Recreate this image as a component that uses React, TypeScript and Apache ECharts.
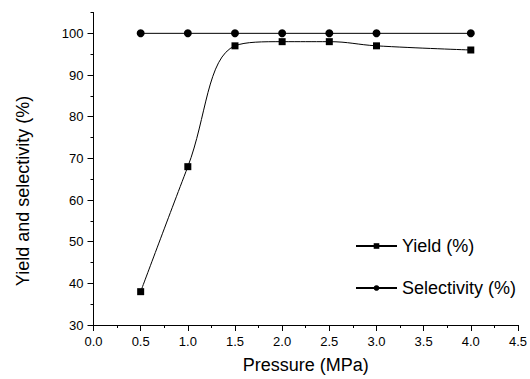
import React, { useEffect, useRef } from "react";
import * as echarts from "echarts";

const pressure = [0.5, 1.0, 1.5, 2.0, 2.5, 3.0, 4.0];
const yieldPct = [38, 68, 97, 98, 98, 97, 96];
const selectivityPct = [100, 100, 100, 100, 100, 100, 100];
const yMajorTicks = [30, 40, 50, 60, 70, 80, 90, 100];
const yMinorTicks = [35, 45, 55, 65, 75, 85, 95, 105];

const FONT = "Liberation Sans, Arial, sans-serif";

export default function App() {
  const ref = useRef<HTMLDivElement>(null);
  useEffect(() => {
    if (!ref.current) return;
    const chart = echarts.init(ref.current, null, { renderer: "svg" });
    const axisLine = { show: true, lineStyle: { color: "#000", width: 1 } };
    chart.setOption({
      animation: false,
      backgroundColor: "#fff",
      grid: { left: 93.5, right: 8.5, top: 12.5, bottom: 51 },
      graphic: [
        {
          type: "text",
          x: 23,
          y: 191,
          rotation: Math.PI / 2,
          style: {
            text: "Yield and selectivity (%)",
            fontFamily: FONT,
            fontSize: 18,
            fill: "#000",
            align: "center",
            verticalAlign: "middle",
          },
        },
      ],
      legend: {
        orient: "vertical",
        left: 350,
        top: 230,
        itemWidth: 41,
        itemHeight: 7,
        itemGap: 20,
        textStyle: { fontFamily: FONT, fontSize: 18, color: "#000", lineHeight: 22 },
        data: ["Yield (%)", "Selectivity (%)"],
      },
      xAxis: {
        type: "value",
        min: 0,
        max: 4.5,
        interval: 0.5,
        name: "Pressure (MPa)",
        nameLocation: "middle",
        nameGap: 31,
        nameTextStyle: { fontFamily: FONT, fontSize: 18, color: "#000" },
        axisLine,
        axisTick: { show: true, length: 6, lineStyle: { color: "#000" } },
        minorTick: { show: true, splitNumber: 2, length: 3, lineStyle: { color: "#000" } },
        axisLabel: {
          fontFamily: FONT,
          fontSize: 13,
          color: "#000",
          margin: 10,
          formatter: (v: number) => v.toFixed(1),
        },
        splitLine: { show: false },
      },
      yAxis: [
        {
          type: "value",
          min: 30,
          max: 105,
          interval: 5,
          axisLine,
          axisTick: { show: true, length: 6, customValues: yMajorTicks, lineStyle: { color: "#000" } },
          axisLabel: {
            fontFamily: FONT,
            fontSize: 13,
            color: "#000",
            margin: 10,
            customValues: yMajorTicks,
          },
          splitLine: { show: false },
        },
        {
          type: "value",
          min: 30,
          max: 105,
          interval: 5,
          position: "left",
          axisLine: { show: false },
          axisTick: { show: true, length: 3, customValues: yMinorTicks, lineStyle: { color: "#000" } },
          axisLabel: { show: false },
          splitLine: { show: false },
        },
      ],
      series: [
        {
          name: "Yield (%)",
          type: "line",
          data: pressure.map((p, i) => [p, yieldPct[i]]),
          smooth: 0.4,
          symbol: "rect",
          symbolSize: 7,
          itemStyle: { color: "#000" },
          lineStyle: { color: "#000", width: 1 },
        },
        {
          name: "Selectivity (%)",
          type: "line",
          data: pressure.map((p, i) => [p, selectivityPct[i]]),
          symbol: "circle",
          symbolSize: 8,
          itemStyle: { color: "#000" },
          lineStyle: { color: "#000", width: 1 },
        },
      ],
    });
    return () => chart.dispose();
  }, []);
  return <div ref={ref} style={{ width: 530, height: 379, position: "absolute", left: 0, top: 0 }} />;
}
